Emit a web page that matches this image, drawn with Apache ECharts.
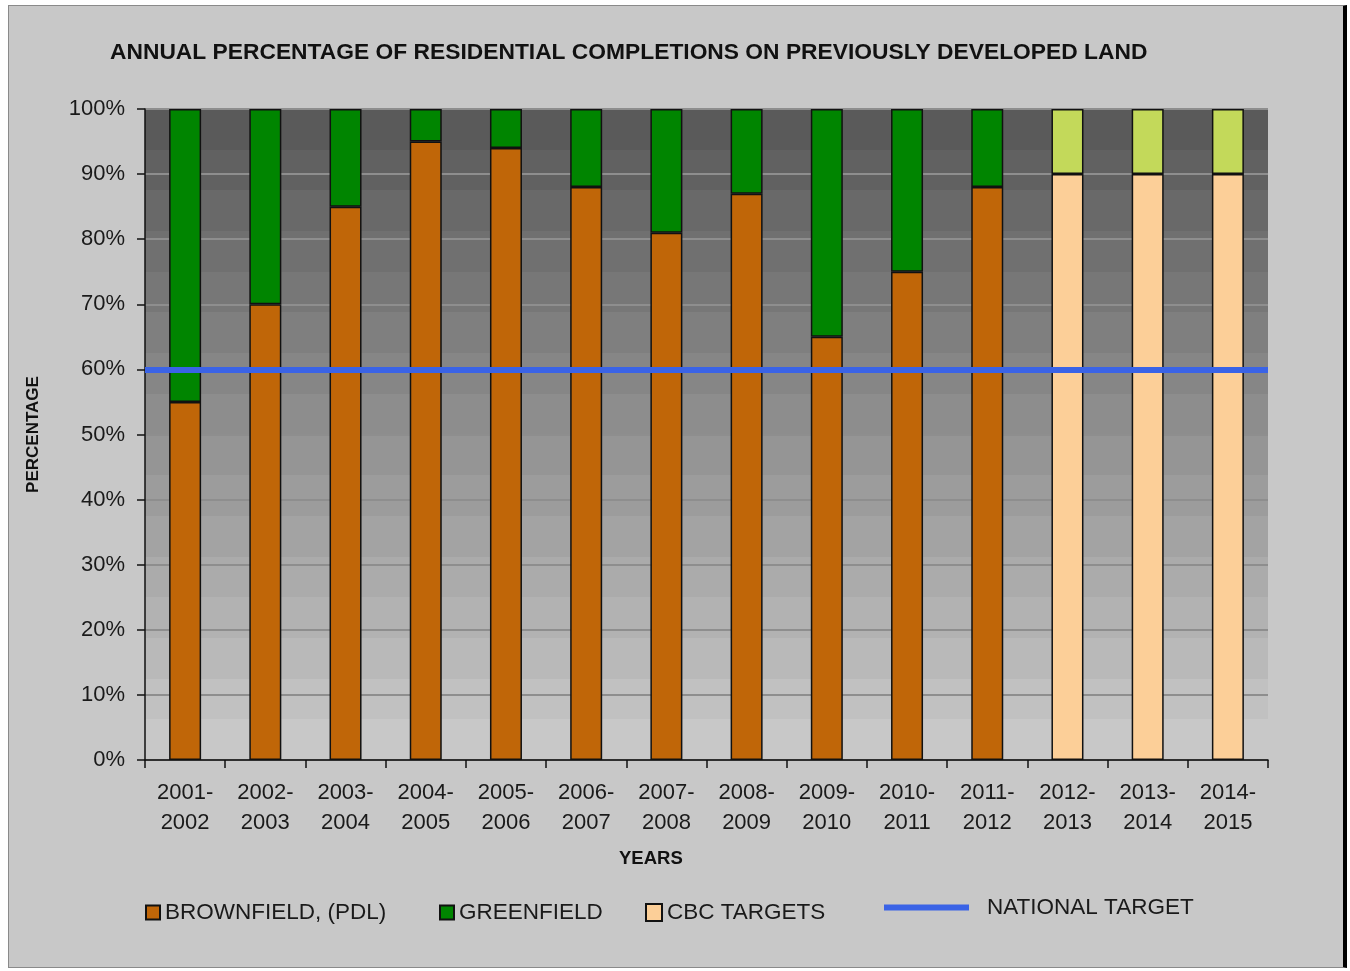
<!DOCTYPE html>
<html>
<head>
<meta charset="utf-8">
<script src="https://cdn.jsdelivr.net/npm/echarts@6/dist/echarts.min.js"></script>
<style>
  html, body { margin: 0; padding: 0; background: #ffffff; }
  #panel {
    position: absolute; left: 8px; top: 5px; width: 1334px; height: 961px;
    background: #c8c8c8;
    border-top: 1px solid #8a8a8a; border-left: 1px solid #8a8a8a;
    border-bottom: 1px solid #8a8a8a; border-right: 4px solid #000000;
  }
  #chart { position: absolute; left: 0; top: 0; width: 1350px; height: 971px; }
</style>
</head>
<body>
<div id="panel"></div>
<div id="chart"></div>
<script>
// Years (financial years) shown on the category axis
const categories = [
  '2001-2002', '2002-2003', '2003-2004', '2004-2005', '2005-2006',
  '2006-2007', '2007-2008', '2008-2009', '2009-2010', '2010-2011',
  '2011-2012', '2012-2013', '2013-2014', '2014-2015'
];

// Share of completions on previously developed land (%)
const brownfield = [55, 70, 85, 95, 94, 88, 81, 87, 65, 75, 88, null, null, null];
// Share of completions on greenfield land (%)
const greenfield = [45, 30, 15, 5, 6, 12, 19, 13, 35, 25, 12, null, null, null];
// Borough targets for future years (%)
const cbcTargets = [null, null, null, null, null, null, null, null, null, null, null, 90, 90, 90];
// Remainder above the borough target, up to 100%
const targetBalance = [null, null, null, null, null, null, null, null, null, null, null, 10, 10, 10];
// National target (%)
const nationalTarget = 60;

const FONT = "'Liberation Sans', Arial, sans-serif";
const TEXT = '#1a1a1a';

// Stepped grey shading for the plotting area: dark at the top, light at the bottom
function bandedStops(n, from, to) {
  const stops = [];
  for (let i = 0; i < n; i++) {
    const t = i / (n - 1);
    const v = Math.round(from + (to - from) * t);
    const c = 'rgb(' + v + ',' + v + ',' + v + ')';
    stops.push({ offset: i / n, color: c });
    stops.push({ offset: (i + 1) / n, color: c });
  }
  return stops;
}

const chart = echarts.init(document.getElementById('chart'), null, { renderer: 'canvas' });

const barBase = {
  type: 'bar',
  stack: 'total',
  barWidth: 32,
  itemStyle: { borderColor: '#111111', borderWidth: 1.5 }
};

const legendCommon = {
  icon: 'rect',
  itemWidth: 14,
  itemHeight: 14,
  padding: 0,
  selectedMode: false,
  textStyle: { fontFamily: FONT, fontSize: 22.5, color: TEXT }
};

chart.setOption({
  backgroundColor: 'transparent',
  animation: false,
  title: {
    text: 'ANNUAL PERCENTAGE OF RESIDENTIAL COMPLETIONS ON PREVIOUSLY DEVELOPED LAND',
    left: 105,
    top: 36,
    textStyle: { fontFamily: FONT, fontSize: 22.8, fontWeight: 'bold', color: '#111111' }
  },
  grid: {
    left: 145, right: 82, top: 109, bottom: 211,
    show: true,
    borderWidth: 0,
    backgroundColor: new echarts.graphic.LinearGradient(0, 0, 0, 1, bandedStops(16, 90, 200))
  },
  legend: [
    Object.assign({}, legendCommon, { data: ['BROWNFIELD, (PDL)'], left: 145, top: 901 }),
    Object.assign({}, legendCommon, { data: ['GREENFIELD'], left: 439, top: 901 }),
    Object.assign({}, legendCommon, { data: ['CBC TARGETS'], left: 645, top: 901, itemWidth: 16, itemHeight: 17 }),
    Object.assign({}, legendCommon, {
      data: ['NATIONAL TARGET'], left: 884, top: 896, itemWidth: 85, itemHeight: 6,
      textStyle: { fontFamily: FONT, fontSize: 22.5, color: TEXT, padding: [0, 0, 0, 13] }
    })
  ],
  xAxis: {
    type: 'category',
    data: categories,
    boundaryGap: true,
    axisLine: { show: true, lineStyle: { color: '#111111', width: 1.5 } },
    axisTick: { show: true, length: 8, lineStyle: { color: '#111111', width: 1.5 } },
    axisLabel: {
      interval: 0,
      margin: 18,
      fontFamily: FONT,
      fontSize: 22,
      lineHeight: 30,
      color: TEXT,
      formatter: v => v.replace('-', '-\n')
    }
  },
  yAxis: {
    type: 'value',
    min: 0,
    max: 100,
    interval: 10,
    name: 'PERCENTAGE',
    nameLocation: 'middle',
    nameRotate: 90,
    nameGap: 103,
    nameTextStyle: { fontFamily: FONT, fontSize: 17, fontWeight: 'bold', color: '#111111' },
    axisLine: { show: true, lineStyle: { color: '#111111', width: 1.5 } },
    axisTick: { show: true, length: 8, lineStyle: { color: '#111111', width: 1.5 } },
    axisLabel: { margin: 20, fontFamily: FONT, fontSize: 22, color: TEXT, formatter: '{value}%' },
    splitLine: { show: true, lineStyle: { color: '#8e8e8e', width: 2 } }
  },
  graphic: [
    {
      type: 'text',
      left: 619,
      top: 849,
      style: { text: 'YEARS', fontFamily: FONT, fontSize: 18.5, fontWeight: 'bold', fill: '#111111' }
    }
  ],
  series: [
    Object.assign({}, barBase, { name: 'BROWNFIELD, (PDL)', data: brownfield, itemStyle: Object.assign({}, barBase.itemStyle, { color: '#c06608' }) }),
    Object.assign({}, barBase, { name: 'GREENFIELD', data: greenfield, itemStyle: Object.assign({}, barBase.itemStyle, { color: '#008500' }) }),
    Object.assign({}, barBase, { name: 'CBC TARGETS', data: cbcTargets, itemStyle: Object.assign({}, barBase.itemStyle, { color: '#fccf98' }) }),
    Object.assign({}, barBase, { name: 'TARGET BALANCE', data: targetBalance, itemStyle: Object.assign({}, barBase.itemStyle, { color: '#c3d95a' }) }),
    {
      name: 'NATIONAL TARGET',
      type: 'line',
      data: [],
      z: 5,
      color: '#3a63e6',
      symbol: 'none',
      lineStyle: { color: '#3a63e6', width: 6 },
      markLine: {
        silent: true,
        symbol: 'none',
        label: { show: false },
        lineStyle: { color: '#3a63e6', width: 6, type: 'solid' },
        data: [{ yAxis: nationalTarget }]
      }
    }
  ]
});
</script>
</body>
</html>
